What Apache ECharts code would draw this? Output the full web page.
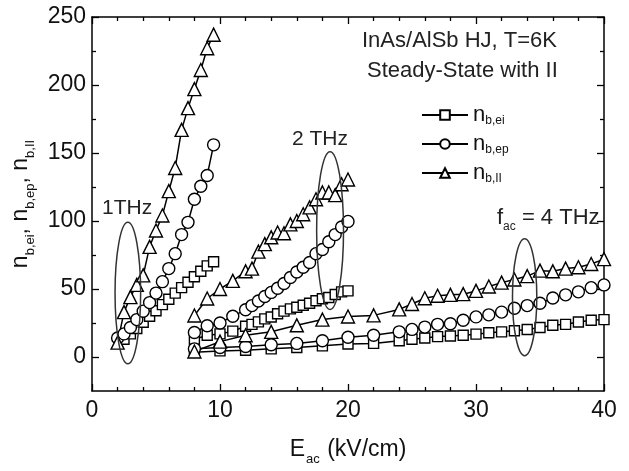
<!DOCTYPE html>
<html><head><meta charset="utf-8">
<script src="https://cdn.jsdelivr.net/npm/echarts@6/dist/echarts.min.js"></script>
<style>html,body{margin:0;padding:0;background:#fff}#c{width:629px;height:471px}</style>
</head><body><div id="c"></div>
<script>
const FONT = '"Liberation Sans", Arial, Helvetica, sans-serif';

// Drive amplitude E_ac (kV/cm) and carrier densities for each frequency
// f = 1 THz
const e1THz   = [2, 2.5, 3, 3.5, 4, 4.5, 5, 5.5, 6, 6.5, 7, 7.5, 8, 8.5, 9, 9.5];
const eEi1THz = [2.5, 3, 3.5, 4, 4.5, 5, 5.5, 6, 6.5, 7, 7.5, 8, 8.5, 9, 9.5];
const nEi1THz = [13, 17, 21, 25.5, 30, 34, 38.5, 42.5, 47, 51, 55, 59, 63, 67, 70];
const nEp1THz = [14, 17, 21.7, 27.5, 33.7, 40, 47, 55.4, 65, 76, 90, 99, 116, 125.5, 133.5, 156];
const nII1THz = [10.6, 33, 44, 53, 60, 81, 93, 104, 122, 139, 167, 183, 197, 211, 227, 237];

// f = 2 THz
const e2THz   = [8, 9, 10, 11, 12, 12.5, 13, 13.5, 14, 14.5, 15, 15.5, 16, 16.5, 17, 17.5, 18, 18.5, 19, 19.5, 20];
const nEi2THz = [13, 16, 17, 19, 22.6, 24, 25.8, 28, 29.4, 31.8, 33.7, 35.4, 36.6, 38, 39.5, 41.4, 42.8, 43.8, 46, 47.9, 48.6];
const nEp2THz = [18, 23, 25, 30, 34.7, 37.8, 41.2, 44.5, 47.5, 50.6, 54, 58.5, 62.5, 66, 69.5, 76, 79, 84.7, 90, 95.6, 99.7];
const nII2THz = [30.5, 43, 50, 56, 63, 65, 77.5, 83, 88, 91.5, 91, 97.5, 100, 105, 110, 116, 121, 121, 119, 127, 130.5];

// f = 4 THz
const e4THz   = [8, 10, 12, 14, 16, 18, 20, 22, 24, 25, 26, 27, 28, 29, 30, 31, 32, 33, 34, 35, 36, 37, 38, 39, 40];
const nEi4THz = [3.5, 4.5, 5, 6, 7, 8.2, 9.6, 10, 12, 13, 14, 15, 15.4, 16, 16.8, 17.8, 18.5, 19.3, 20.2, 21.7, 23.3, 24, 25.7, 27, 27.5];
const nEp4THz = [6, 7, 7.7, 9, 10, 12, 14.5, 16, 18.5, 20.3, 22, 24, 24.5, 27, 29.5, 31, 33, 35.9, 37.8, 39.5, 43.4, 45.7, 47.9, 51, 53];
const nII4THz = [4, 11.3, 16, 18.5, 23.3, 27.5, 29.8, 30.6, 35, 39, 43.2, 45, 45.7, 46.2, 48.6, 51.8, 54.7, 57, 59.5, 63.5, 63, 65, 66, 68.4, 72];

// Frequency groupings marked with ellipses: centre (E, n) and half-axes
const ringCenterE = [2.8, 18.6, 33.8];
const ringCenterN = [47, 93, 44];
const ringHalfE   = [1.0, 1.05, 0.95];
const ringHalfN   = [52, 58, 43];

// Axis ranges and ticks
const xMin = 0, xMax = 40, xStep = 10;
const yMin = -25, yMax = 250, yStep = 25;
const yMajorTicks = [0, 50, 100, 150, 200, 250];
const yMinorTicks = [25, 75, 125, 175, 225];

const legendText = { ei: '{n|n}{s|b,ei}', ep: '{n|n}{s|b,ep}', II: '{n|n}{s|b,II}' };
const symbolOf = { ei: ['rect', 10], ep: ['circle', 12], II: ['triangle', 13] };

function makeLine(kind, xs, ys) {
  return {
    type: 'line', name: kind,
    data: xs.map((x, i) => [x, ys[i]]),
    symbol: symbolOf[kind][0], symbolSize: symbolOf[kind][1], showSymbol: true,
    lineStyle: { color: '#000', width: 1.5 },
    itemStyle: { color: '#fff', borderColor: '#000', borderWidth: 1.4 },
    emphasis: { disabled: true },
    animation: false, z: 3
  };
}

const ringData = ringCenterE.map((e, i) => [e, ringCenterN[i], ringHalfE[i], ringHalfN[i]]);

const chart = echarts.init(document.getElementById('c'), null, { renderer: 'canvas' });

const lineStyleAxis = { color: '#000', width: 1.5 };
const tickStyle = { color: '#000', width: 1.3 };

function yAxisDef(position, ticks, len, withLine, withLabel) {
  const ax = {
    type: 'value', position: position, min: yMin, max: yMax, interval: yStep,
    axisLine: { show: withLine, onZero: false, lineStyle: lineStyleAxis },
    axisTick: { show: true, inside: true, length: len, customValues: ticks, lineStyle: tickStyle },
    axisLabel: { show: false },
    splitLine: { show: false }
  };
  if (withLabel) {
    ax.axisLabel = { show: true, customValues: ticks, color: '#111', fontFamily: FONT, fontSize: 23, margin: 6 };
    ax.name = '{m|n}{s|b,ei}{m|, n}{s|b,ep}{m|, n}{s|b,II}';
    ax.nameLocation = 'middle';
    ax.nameGap = 52;
    ax.nameRotate = 90;
    ax.nameTextStyle = {
      fontFamily: FONT, color: '#111',
      rich: {
        m: { fontFamily: FONT, fontSize: 23, color: '#111', lineHeight: 32, verticalAlign: 'middle' },
        s: { fontFamily: FONT, fontSize: 13, color: '#111', lineHeight: 13, verticalAlign: 'bottom' }
      }
    };
  }
  return ax;
}

function xAxisDef(position, withLabel) {
  const ax = {
    type: 'value', position: position, min: xMin, max: xMax, interval: xStep,
    axisLine: { show: true, onZero: false, lineStyle: lineStyleAxis },
    axisTick: { show: true, inside: true, length: 7, lineStyle: tickStyle },
    minorTick: { show: true, splitNumber: 5, length: 4, lineStyle: tickStyle },
    axisLabel: { show: false },
    splitLine: { show: false }
  };
  if (withLabel) {
    ax.axisLabel = { show: true, color: '#111', fontFamily: FONT, fontSize: 23, margin: 8 };
    ax.name = '{m|E}{s|ac}{m| (kV/cm)}';
    ax.nameLocation = 'middle';
    ax.nameGap = 43;
    ax.nameTextStyle = {
      fontFamily: FONT, color: '#111',
      rich: {
        m: { fontFamily: FONT, fontSize: 23, color: '#111', lineHeight: 32, verticalAlign: 'middle' },
        s: { fontFamily: FONT, fontSize: 13, color: '#111', lineHeight: 13, verticalAlign: 'bottom', padding: [0, 1, 0, 1] }
      }
    };
  }
  return ax;
}

chart.setOption({
  backgroundColor: '#fff',
  animation: false,
  grid: { left: 92, right: 25, top: 17, bottom: 72, containLabel: false },
  xAxis: [xAxisDef('bottom', true), xAxisDef('top', false)],
  yAxis: [
    yAxisDef('left', yMajorTicks, 7, true, true),
    yAxisDef('right', yMajorTicks, 7, true, false),
    yAxisDef('left', yMinorTicks, 4, false, false),
    yAxisDef('right', yMinorTicks, 4, false, false)
  ],
  legend: {
    data: ['ei', 'ep', 'II'],
    orient: 'vertical', left: 416, top: 99,
    itemWidth: 46, itemHeight: 12, itemGap: 6,
    selectedMode: false,
    formatter: name => legendText[name],
    textStyle: {
      fontFamily: FONT, color: '#111',
      rich: {
        n: { fontFamily: FONT, fontSize: 22, color: '#111', lineHeight: 24, verticalAlign: 'middle' },
        s: { fontFamily: FONT, fontSize: 12, color: '#111', lineHeight: 12, verticalAlign: 'bottom' }
      }
    }
  },
  graphic: [
    { type: 'text', left: 362, top: 30, style: { text: 'InAs/AlSb HJ, T=6K', fontFamily: FONT, fontSize: 22, fill: '#222' } },
    { type: 'text', left: 367, top: 60, style: { text: 'Steady-State with II', fontFamily: FONT, fontSize: 22, fill: '#222' } },
    { type: 'text', left: 102, top: 198, style: { text: '1THz', fontFamily: FONT, fontSize: 21, fill: '#222' } },
    { type: 'text', left: 292, top: 129, style: { text: '2 THz', fontFamily: FONT, fontSize: 21, fill: '#222' } },
    {
      type: 'text', left: 497, top: 207,
      style: {
        text: '{m|f}{s|ac}{m| = 4 THz}', fontFamily: FONT, fill: '#222',
        rich: {
          m: { fontFamily: FONT, fontSize: 22, fill: '#222', lineHeight: 30, verticalAlign: 'middle' },
          s: { fontFamily: FONT, fontSize: 12, fill: '#222', lineHeight: 12, verticalAlign: 'bottom' }
        }
      }
    }
  ],
  series: [
    makeLine('ei', eEi1THz, nEi1THz),
    makeLine('ep', e1THz, nEp1THz),
    makeLine('II', e1THz, nII1THz),
    makeLine('ei', e2THz, nEi2THz),
    makeLine('ep', e2THz, nEp2THz),
    makeLine('II', e2THz, nII2THz),
    makeLine('ei', e4THz, nEi4THz),
    makeLine('ep', e4THz, nEp4THz),
    makeLine('II', e4THz, nII4THz),
    {
      type: 'custom', name: 'rings', silent: true, z: 5,
      data: ringData,
      renderItem: (params, api) => {
        const c = api.coord([api.value(0), api.value(1)]);
        const s = api.size([api.value(2), api.value(3)]);
        return {
          type: 'ellipse',
          shape: { cx: c[0], cy: c[1], rx: s[0], ry: s[1] },
          style: { fill: 'none', stroke: '#333', lineWidth: 1.5 }
        };
      }
    }
  ]
});
</script>
</body></html>
